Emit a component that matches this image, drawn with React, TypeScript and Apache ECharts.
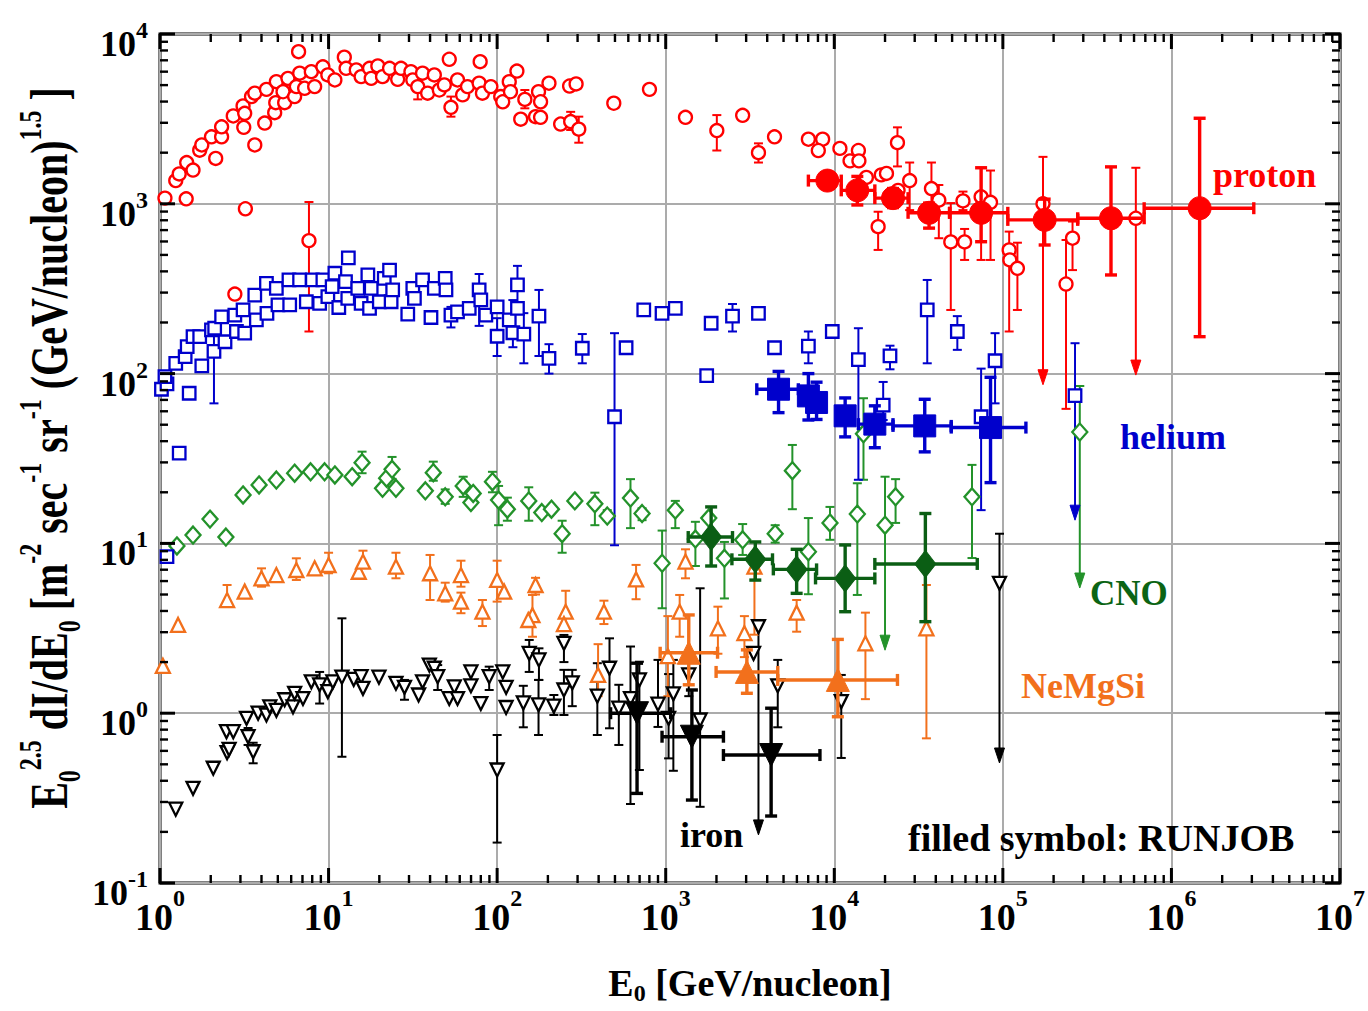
import React, { useEffect, useRef } from "react";
import * as echarts from "echarts";

const FONT = "'Liberation Serif', 'Times New Roman', Times, serif";

// ---------- axis ranges / decades ----------
const X_MIN = 1;
const X_MAX = 1e7;
const Y_MIN = 0.1;
const Y_MAX = 1e4;
const X_DECADES = [0, 1, 2, 3, 4, 5, 6, 7];
const Y_DECADES = [-1, 0, 1, 2, 3, 4];
const MINOR_MULT = [2, 3, 4, 5, 6, 7, 8, 9];

// ---------- data ----------
// open symbols: [E0 (GeV/nucleon), flux, errLow?, errHigh?]
// limits: [E0, flux, errHigh, arrowEnd]
// RUNJOB (filled): [E0, flux, E0low, E0high, fluxLow, fluxHigh]

const protonOpen: number[][] = [
  [0.98, 1000], [1.07, 1080], [1.43, 1070], [1.24, 1370], [1.3, 1500], [1.44, 1750], [1.57, 1580],
  [1.72, 2070], [1.77, 2220], [2.14, 1850], [2.02, 2480], [2.32, 2480], [2.32, 2840], [2.72, 3290],
  [3.14, 2820], [3.11, 3770], [3.18, 3410], [3.65, 2220], [3.21, 935], [3.49, 4280], [3.65, 4480],
  [4.18, 2990], [4.28, 4720], [4.79, 3440], [4.86, 3940], [4.9, 5240], [5.49, 3940], [5.37, 4570],
  [5.74, 5480], [6.29, 4280], [6.44, 4900], [6.64, 7870], [6.74, 5880], [7.21, 4790], [7.9, 6000],
  [8.27, 4900], [9.25, 6410], [9.9, 5740], [10.9, 5360], [12.4, 7300], [12.7, 6280], [14.6, 6140],
  [15.6, 5610], [17.5, 6280], [17.9, 5480], [19.6, 6490], [20.9, 5610], [23.0, 6280], [25.7, 5410],
  [26.9, 6280], [30.8, 6000], [31.6, 5360], [33.8, 4900, 4120, 5810], [36.1, 5880], [38.7, 4480],
  [42.4, 5740], [45.4, 4680], [48.6, 5010], [52.0, 7100], [53.2, 3700, 3260, 4280], [58.2, 5360],
  [62.4, 4380], [66.7, 4900], [78.2, 5130], [79.3, 6870], [81.8, 4480], [91.8, 4900], [105, 4280],
  [108, 3990], [118, 5240], [120, 4570], [131, 6050], [138, 3150], [146, 4120, 3650, 4680], [169, 3260],
  [176, 4570], [181, 3990], [181, 3230], [203, 5130], [238, 2950], [269, 4940], [273, 3050, 2720, 3480],
  [294, 5080], [305, 2750, 2290, 3260], [492, 3910], [801, 4720], [1310, 3230], [2010, 2700, 2060, 3330],
  [2860, 3320], [3550, 2000, 1750, 2270], [4420, 2480], [7020, 2400], [8530, 2400], [8040, 2060],
  [10800, 2120], [12400, 1790], [13900, 2060], [14000, 1790], [15500, 1430], [18200, 733, 535, 898],
  [19000, 1480], [20400, 1510], [23700, 2290, 1660, 2820], [28000, 1370, 918, 1750], [23900, 1200],
  [37700, 1230, 840, 1750], [41700, 1050, 627, 1290], [49100, 596, 237, 1010], [58000, 1040, 918, 1180],
  [59300, 596, 467, 711], [74300, 1100, 467, 1630], [84500, 1020, 467, 1570], [109000, 535, 177, 686],
  [110000, 467], [122000, 417, 237, 590], [259000, 627, 407, 786], [237000, 337, 62, 612],
  [7.65, 607, 177, 1025], [2.78, 294],
];
const protonLimits: number[][] = [
  [615000, 822, 1630, 98],
  [173000, 1000, 1890, 86],
];
const protonRunjob: number[][] = [
  [9100, 1370, 7020, 11000, 1250, 1500],
  [13700, 1200, 11000, 17400, 984, 1450],
  [22300, 1080, 17400, 27400, 950, 1230],
  [36500, 885, 27400, 48300, 719, 1010],
  [74300, 885, 48300, 107000, 598, 1630],
  [177000, 804, 107000, 278000, 572, 1065],
  [438000, 822, 278000, 689000, 381, 1650],
  [1470000, 942, 689000, 3080000, 165, 3190],
];

const heliumOpen: number[][] = [
  [1.02, 80.9], [1.1, 87], [1.07, 95.9], [1.24, 115], [1.3, 34.0], [1.49, 76.6], [1.41, 126], [1.45, 144],
  [1.57, 165], [1.72, 165], [1.77, 111], [2.02, 181], [2.11, 185], [2.09, 135, 66.8, 181], [2.32, 216],
  [2.43, 154], [2.78, 221], [2.84, 177], [3.11, 237], [3.18, 173], [3.65, 290], [3.73, 207], [4.28, 340],
  [4.31, 226], [4.9, 318], [5.01, 254], [5.82, 356], [5.88, 254], [6.73, 356], [7.38, 265], [8.01, 356],
  [8.85, 259], [9.25, 356], [9.9, 284], [10.5, 325], [11.5, 245], [10.9, 390], [12.6, 348], [13.1, 480],
  [13.0, 277], [14.9, 318], [15.6, 259], [17.1, 381], [17.5, 242], [17.9, 318], [20.0, 265], [21.4, 364],
  [23.0, 407], [23.5, 265], [24.0, 311], [29.5, 224], [31.6, 318], [32.3, 277], [36.1, 356], [40.5, 214],
  [42.4, 318], [49.2, 364], [49.7, 311], [53.2, 221, 187, 247], [58.2, 231], [68.3, 242],
  [78.2, 311, 191, 386], [80.0, 272], [85.7, 221], [100, 247], [100, 166, 127, 212], [118, 207],
  [124, 174, 143, 271], [132, 333, 242, 431], [132, 242], [144, 171, 115, 227], [177, 218, 127, 311],
  [203, 123, 100, 149], [320, 141, 115, 171], [497, 55.7, 9.75, 173], [582, 142], [741, 237], [951, 226],
  [1140, 242], [1750, 97.2], [1860, 198], [2490, 218, 177, 257], [3550, 226], [4420, 142],
  [7020, 145, 115, 177], [9730, 177], [13900, 121, 23.7, 185], [21400, 127, 106, 146],
  [19500, 65.3, 53.3, 89.3], [35600, 237, 115, 356], [53700, 177, 138, 218], [74300, 55.7, 15.7, 107],
  [89900, 119, 66.8, 173], [1.1, 8.36],
];
const heliumLimits: number[][] = [[268000, 74.1, 151, 13.7]];
const heliumRunjob: number[][] = [
  [4670, 80.9, 3470, 6120, 58.9, 103],
  [7020, 73.9, 7020, 7020, 53.3, 100],
  [7850, 67.6, 7850, 7850, 53.7, 89],
  [11600, 56.4, 11600, 11600, 42.4, 71.9],
  [17400, 50.4, 13900, 22300, 36.6, 64.6],
  [34400, 49.2, 22300, 49400, 34.6, 70.6],
  [84500, 48.1, 49400, 137000, 22.8, 95.1],
];

const cnoOpen: number[][] = [
  [1.26, 9.66], [1.57, 11.2], [1.98, 13.9], [2.46, 10.9], [3.11, 19.3], [3.87, 22.1], [4.9, 23.6],
  [6.29, 25.9], [7.82, 26.4], [9.47, 26.4], [10.9, 25.3], [13.8, 24.7], [15.8, 29.9, 25.9, 34.7],
  [20.9, 21.1], [22.1, 24.2], [23.8, 27.3, 24, 32.3], [25.1, 21.1], [37.5, 20.4], [41.8, 26.1, 23.4, 30.3],
  [49.2, 18.8, 17.1, 20.8], [62.9, 21.8, 18.8, 24.7], [69.9, 17.4], [72.1, 19.7], [93.8, 23.1, 20, 26.4],
  [102, 18.0, 12.8, 21.8], [115, 15.9, 13.6, 18.6], [154, 17.8, 13.6, 21.4], [184, 15.2], [210, 15.9],
  [243, 11.4, 8.81, 13.6], [289, 17.8], [380, 17.1, 12.8, 19.9], [450, 14.5, 13.7, 15.7],
  [618, 18.5, 12.3, 23.9], [724, 15.0, 13.7, 16.1], [1140, 15.7, 12.3, 17.8], [952, 7.64, 4.15, 11.9],
  [1500, 10.6, 7.36, 13.4], [1800, 14.1], [2230, 8.17, 4.74, 10.2], [2860, 10.5, 8.55, 13.0],
  [4460, 11.4, 10.1, 12.8], [5640, 26.8, 15.9, 38.0], [7020, 8.93, 5.02, 14.1], [9430, 13.2, 10.5, 16.4],
  [13700, 14.9, 4.97, 22.6], [14900, 44.2, 23.7, 71.6], [23100, 18.8, 13.2, 23.9], [65600, 18.8, 8.2, 29.0],
];
const cnoLimits: number[][] = [
  [20000, 12.8, 24.7, 2.35],
  [286000, 45.3, 84.5, 5.46],
];
const cnoRunjob: number[][] = [
  [1860, 10.9, 1360, 2490, 7.36, 16.4],
  [3400, 8.06, 2470, 4300, 6.08, 10.2],
  [5980, 7.03, 4350, 7850, 5.08, 9.23],
  [11600, 6.22, 7740, 17400, 3.96, 9.79],
  [34700, 7.57, 17400, 70500, 3.46, 15.0],
];

const neOpen: number[][] = [
  [1.04, 1.9], [1.28, 3.31], [2.5, 4.64, 4.27, 5.69], [3.18, 5.2], [4.0, 6.23, 5.56, 7.13], [4.9, 6.51],
  [6.44, 6.97, 6.09, 8.17], [8.27, 7.13], [10.0, 7.46, 6.67, 8.81], [15.1, 6.81], [16.0, 7.8, 7.31, 9.06],
  [25.1, 7.29, 6.23, 8.81], [40.0, 6.67, 4.64, 8.55], [49.2, 5.08, 4.54, 5.87], [61.0, 6.51, 5.56, 7.91],
  [61.0, 4.54, 3.88, 5.13], [81.8, 3.96, 3.26, 4.64], [100, 6.09, 4.54, 7.91], [110, 5.2],
  [169, 5.69, 5.0, 6.27], [162, 3.78, 2.82, 4.97], [153, 3.54], [255, 3.96, 3.16, 5.26], [249, 3.35],
  [430, 3.96, 3.35, 4.6], [667, 6.14, 4.69, 7.47], [397, 1.68, 1.26, 2.55], [1310, 7.82, 6.23, 9.23],
  [1210, 3.96, 2.82, 4.97], [1030, 2.17, 1.26, 3.73], [2040, 3.16, 2.24, 4.24], [2930, 2.96, 2.14, 3.73],
  [5980, 3.91, 3.02, 4.64], [15300, 2.58, 1.21, 3.91], [35200, 3.16, 0.711, 5.69], [3360, 7.29, 2.9, 7.6],
];
const neRunjob: number[][] = [
  [1370, 2.27, 927, 2030, 1.47, 3.79],
  [3030, 1.75, 1990, 4620, 1.31, 2.36],
  [10500, 1.57, 4620, 23700, 0.953, 2.72],
];

const ironOpen: number[][] = [
  [0.99, 0.165], [1.24, 0.272], [1.57, 0.361], [2.07, 0.474], [2.5, 0.585], [2.57, 0.613], [2.48, 0.778],
  [2.72, 0.778], [3.26, 0.933], [3.33, 0.727, 0.65, 0.818], [3.57, 0.593, 0.507, 0.67], [3.82, 1.0],
  [4.28, 0.976], [4.48, 1.09], [4.9, 1.04], [5.49, 1.2], [6.15, 1.09], [6.29, 1.31], [7.05, 1.22],
  [7.9, 1.53], [8.85, 1.47, 1.14, 1.75], [9.9, 1.34], [10.6, 1.53], [12.0, 1.63, 0.554, 3.62], [14.1, 1.58],
  [15.6, 1.64], [16.0, 1.4], [19.9, 1.63], [25.1, 1.5], [28.2, 1.42, 1.2, 1.57], [34.2, 1.28], [36.1, 1.53],
  [39.6, 1.92], [42.4, 1.84], [44.4, 1.64, 1.37, 1.92], [52.0, 1.22], [55.7, 1.43], [58.2, 1.22],
  [69.9, 1.75], [69.9, 1.45], [80.0, 1.14], [89.7, 1.64, 1.37, 1.88], [100, 0.463, 0.173, 0.744],
  [108, 1.75], [113, 1.42], [113, 1.08], [143, 1.15, 0.826, 1.45], [155, 2.25, 1.75, 2.7],
  [177, 2.06, 1.57, 2.41], [176, 1.12, 0.744, 1.57], [217, 1.1, 0.976, 1.28], [249, 2.58, 2.0, 2.89],
  [249, 1.37, 0.976, 1.8], [279, 1.51, 1.1, 1.8], [393, 1.26, 0.744, 1.97], [464, 1.84, 0.815, 2.76],
  [527, 1.07, 0.65, 1.47], [618, 1.22, 0.292, 2.47], [698, 1.57, 0.463, 2.01], [900, 1.13, 0.83, 2.06],
  [1040, 0.933, 0.542, 1.7], [1110, 1.3, 0.458, 2.06], [1370, 1.68, 1.26, 2.2], [1600, 0.912, 0.281, 5.44],
  [3320, 2.25], [4620, 1.45, 0.826, 2.06], [11000, 1.17, 0.545, 1.68],
];
const ironLimits: number[][] = [
  [3550, 3.23, 3.41, 0.192],
  [95500, 5.82, 11.4, 0.509],
];
const ironRunjob: number[][] = [
  [676, 1.0, 471, 1070, 0.337, 1.97],
  [1430, 0.727, 951, 2200, 0.308, 1.37],
  [4220, 0.567, 2200, 8220, 0.248, 1.07],
];

// ---------- rendering helpers ----------
function line(x1: number, y1: number, x2: number, y2: number, style: any) {
  return { type: "line", shape: { x1, y1, x2, y2 }, style };
}

function openErrRender(color: string) {
  return (_p: any, api: any) => {
    const x = api.value(0);
    const a = api.coord([x, api.value(2)]);
    const b = api.coord([x, api.value(3)]);
    const st = { stroke: color, lineWidth: 2, fill: null };
    return {
      type: "group",
      children: [
        line(a[0], a[1], b[0], b[1], st),
        line(a[0] - 4.5, a[1], a[0] + 4.5, a[1], st),
        line(b[0] - 4.5, b[1], b[0] + 4.5, b[1], st),
      ],
    };
  };
}

function limitRender(color: string) {
  return (_p: any, api: any) => {
    const x = api.value(0);
    const t = api.coord([x, api.value(2)]);
    const b = api.coord([x, api.value(3)]);
    const st = { stroke: color, lineWidth: 2, fill: null };
    return {
      type: "group",
      children: [
        line(t[0], t[1], b[0], b[1] - 4, st),
        line(t[0] - 4.5, t[1], t[0] + 4.5, t[1], st),
        {
          type: "polygon",
          shape: { points: [[b[0] - 5, b[1] - 15], [b[0] + 5, b[1] - 15], [b[0], b[1]]] },
          style: { fill: color, stroke: color, lineWidth: 1 },
        },
      ],
    };
  };
}

function runjobRender(color: string) {
  return (_p: any, api: any) => {
    const x = api.value(0), y = api.value(1);
    const xl = api.value(2), xh = api.value(3), yl = api.value(4), yh = api.value(5);
    const st = { stroke: color, lineWidth: 3.4, fill: null };
    const ch: any[] = [];
    if (xh > xl) {
      const l = api.coord([xl, y]);
      const r = api.coord([xh, y]);
      ch.push(line(l[0], l[1], r[0], r[1], st));
      ch.push(line(l[0], l[1] - 6, l[0], l[1] + 6, st));
      ch.push(line(r[0], r[1] - 6, r[0], r[1] + 6, st));
    }
    const lo = api.coord([x, yl]);
    const hi = api.coord([x, yh]);
    ch.push(line(lo[0], lo[1], hi[0], hi[1], st));
    ch.push(line(lo[0] - 6, lo[1], lo[0] + 6, lo[1], st));
    ch.push(line(hi[0] - 6, hi[1], hi[0] + 6, hi[1], st));
    return { type: "group", children: ch };
  };
}

function tickRender(_p: any, api: any) {
  const kind = api.value(2);
  const major = api.value(3);
  const len = major ? 15 : 8;
  const st = { stroke: "#000", lineWidth: major ? 3 : 2.4 };
  if (kind === 0) {
    const v = api.value(0);
    const b = api.coord([v, Y_MIN]);
    const t = api.coord([v, Y_MAX]);
    return {
      type: "group",
      children: [line(b[0], b[1], b[0], b[1] - len, st), line(t[0], t[1], t[0], t[1] + len, st)],
    };
  }
  const v = api.value(1);
  const l = api.coord([X_MIN, v]);
  const r = api.coord([X_MAX, v]);
  return {
    type: "group",
    children: [line(l[0], l[1], l[0] + len, l[1], st), line(r[0], r[1], r[0] - len, r[1], st)],
  };
}

function buildTicks() {
  const d: number[][] = [];
  X_DECADES.forEach((e, i) => {
    const base = Math.pow(10, e);
    d.push([base, 1, 0, 1]);
    if (i < X_DECADES.length - 1) MINOR_MULT.forEach((m) => d.push([m * base, 1, 0, 0]));
  });
  Y_DECADES.forEach((e, i) => {
    const base = Math.pow(10, e);
    d.push([1, base, 1, 1]);
    if (i < Y_DECADES.length - 1) MINOR_MULT.forEach((m) => d.push([1, m * base, 1, 0]));
  });
  return d;
}

interface Species {
  color: string;
  fill: string;
  symbol: string;
  rotate: number;
  openSize: any;
  fillSize: any;
  open: number[][];
  limits: number[][];
  runjob: number[][];
}

function speciesSeries(s: Species): any[] {
  const out: any[] = [];
  out.push({
    type: "custom",
    coordinateSystem: "cartesian2d",
    renderItem: openErrRender(s.color),
    data: s.open.filter((r) => r.length >= 4),
    encode: { x: 0, y: 1 },
    z: 2,
    silent: true,
  });
  if (s.limits.length) {
    out.push({
      type: "custom",
      coordinateSystem: "cartesian2d",
      renderItem: limitRender(s.color),
      data: s.limits,
      encode: { x: 0, y: 1 },
      z: 2,
      silent: true,
    });
  }
  out.push({
    type: "scatter",
    data: s.open.map((r) => [r[0], r[1]]).concat(s.limits.map((r) => [r[0], r[1]])),
    symbol: s.symbol,
    symbolRotate: s.rotate,
    symbolSize: s.openSize,
    itemStyle: { color: "#ffffff", borderColor: s.color, borderWidth: 2.3, opacity: 1 },
    z: 3,
    silent: true,
  });
  out.push({
    type: "custom",
    coordinateSystem: "cartesian2d",
    renderItem: runjobRender(s.fill),
    data: s.runjob,
    encode: { x: 0, y: 1 },
    z: 4,
    silent: true,
  });
  out.push({
    type: "scatter",
    data: s.runjob.map((r) => [r[0], r[1]]),
    symbol: s.symbol,
    symbolRotate: s.rotate,
    symbolSize: s.fillSize,
    itemStyle: { color: s.fill, borderColor: s.fill, borderWidth: 1, opacity: 1 },
    z: 5,
    silent: true,
  });
  return out;
}

const SPECIES: Species[] = [
  { color: "#000000", fill: "#000000", symbol: "triangle", rotate: 180, openSize: 13, fillSize: 23, open: ironOpen, limits: ironLimits, runjob: ironRunjob },
  { color: "#f2701c", fill: "#f2701c", symbol: "triangle", rotate: 0, openSize: 14, fillSize: 23, open: neOpen, limits: [], runjob: neRunjob },
  { color: "#23922a", fill: "#0b5e14", symbol: "diamond", rotate: 0, openSize: [15, 17], fillSize: [21, 27], open: cnoOpen, limits: cnoLimits, runjob: cnoRunjob },
  { color: "#0000cc", fill: "#0000cc", symbol: "rect", rotate: 0, openSize: 12.5, fillSize: 22, open: heliumOpen, limits: heliumLimits, runjob: heliumRunjob },
  { color: "#ff0000", fill: "#ff0000", symbol: "circle", rotate: 0, openSize: 13, fillSize: 23, open: protonOpen, limits: protonLimits, runjob: protonRunjob },
];

const expFormatter = (v: number) => `{b|10}{s|${Math.round(Math.log10(v))}}`;

const bold = { fontFamily: FONT, fontWeight: "bold", color: "#000" };

function label(text: string, x: number, y: number, fill: string, size = 35) {
  return {
    type: "text",
    x,
    y,
    z: 100,
    silent: true,
    style: { text, fill, fontFamily: FONT, fontWeight: "bold", fontSize: size, align: "left", verticalAlign: "middle" },
  };
}

export default function App() {
  const ref = useRef<HTMLDivElement>(null);

  useEffect(() => {
    if (!ref.current) return;
    const chart = echarts.init(ref.current, undefined, { renderer: "svg" });

    const yTitleRich = {
      m: { ...bold, fontSize: 40, verticalAlign: "middle" },
      sup: { ...bold, fontSize: 24, verticalAlign: "top", padding: [0, 0, 30, 0] },
      sub: { ...bold, fontSize: 24, verticalAlign: "bottom", padding: [30, 0, 0, 0] },
    };

    const option: any = {
      animation: false,
      backgroundColor: "#ffffff",
      grid: {
        left: 160,
        right: 26,
        top: 34,
        bottom: 128,
        show: true,
        borderColor: "#000",
        borderWidth: 3,
        backgroundColor: "transparent",
      },
      xAxis: {
        type: "log",
        logBase: 10,
        min: X_MIN,
        max: X_MAX,
        axisLine: { show: false },
        axisTick: { show: false },
        splitLine: { show: true, lineStyle: { color: "#ababab", width: 2 } },
        axisLabel: {
          show: true,
          margin: 3,
          showMinLabel: true,
          showMaxLabel: true,
          formatter: expFormatter,
          rich: {
            b: { ...bold, fontSize: 38, verticalAlign: "bottom" },
            s: { ...bold, fontSize: 24, verticalAlign: "top", padding: [0, 0, 26, 0] },
          },
        },
      },
      yAxis: {
        type: "log",
        logBase: 10,
        min: Y_MIN,
        max: Y_MAX,
        axisLine: { show: false },
        axisTick: { show: false },
        splitLine: { show: true, lineStyle: { color: "#ababab", width: 2 } },
        axisLabel: {
          show: true,
          margin: 12,
          showMinLabel: true,
          showMaxLabel: true,
          padding: [12, 0, 0, 0],
          formatter: expFormatter,
          rich: {
            b: { ...bold, fontSize: 36, verticalAlign: "bottom" },
            s: { ...bold, fontSize: 24, verticalAlign: "top", padding: [0, 0, 20, 0] },
          },
        },
      },
      series: [
        {
          type: "custom",
          coordinateSystem: "cartesian2d",
          renderItem: tickRender,
          data: buildTicks(),
          encode: { x: 0, y: 1 },
          clip: false,
          z: 10,
          silent: true,
        },
        ...SPECIES.flatMap(speciesSeries),
      ],
      graphic: [
        label("proton", 1213, 175, "#ff0000", 36),
        label("helium", 1120, 437, "#0000cc", 36),
        label("CNO", 1090, 593, "#0b6414", 35),
        label("NeMgSi", 1021, 686, "#f2701c", 36),
        label("iron", 680, 835, "#000000", 36),
        label("filled symbol: RUNJOB", 908, 838, "#000000", 38),
        {
          type: "text",
          x: 750,
          y: 983,
          silent: true,
          style: {
            text: "{m|E}{sub|0}{m| [GeV/nucleon]}",
            align: "center",
            verticalAlign: "middle",
            fill: "#000",
            fontFamily: FONT,
            fontWeight: "bold",
            fontSize: 38,
            rich: {
              m: { ...bold, fontSize: 38, verticalAlign: "middle" },
              sub: { ...bold, fontSize: 24, verticalAlign: "bottom", padding: [20, 0, 0, 0] },
            },
          },
        },
        {
          type: "text",
          x: 50,
          y: 448,
          rotation: Math.PI / 2,
          scaleY: 1.3,
          silent: true,
          style: {
            text:
              "{m|E}{sub|0}{sup|2.5}{m| dI/dE}{sub|0}{m| [m}{sup|-2}{m| sec}{sup|-1}{m| sr}{sup|-1}{m| (GeV/nucleon)}{sup|1.5}{m| ]}",
            align: "center",
            verticalAlign: "middle",
            fill: "#000",
            fontFamily: FONT,
            fontWeight: "bold",
            fontSize: 40,
            rich: yTitleRich,
          },
        },
      ],
    };

    chart.setOption(option);
    return () => chart.dispose();
  }, []);

  return (
    <div
      ref={ref}
      style={{ position: "fixed", left: 0, top: 0, width: 1368, height: 1011, background: "#fff" }}
    />
  );
}
